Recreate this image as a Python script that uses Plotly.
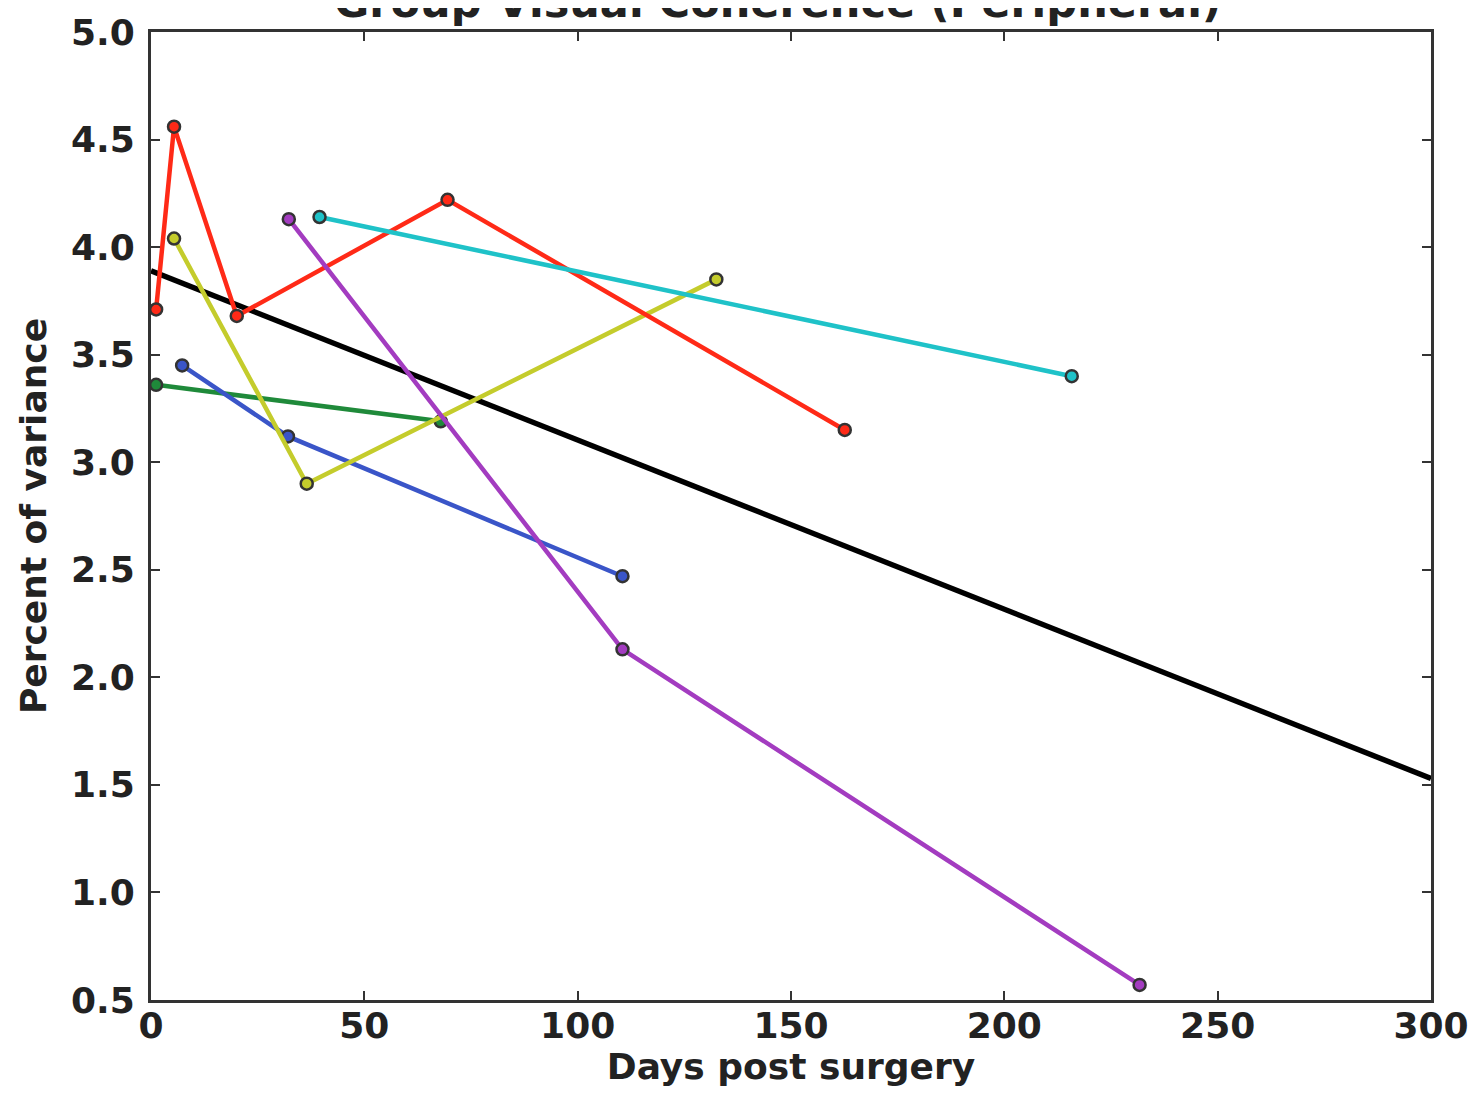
import plotly.graph_objects as go

# Data
red_x = [1.2, 5.4, 20.1, 69.5, 162.6]
red_y = [3.71, 4.56, 3.68, 4.22, 3.15]
yellow_x = [5.4, 36.5, 132.5]
yellow_y = [4.04, 2.90, 3.85]
cyan_x = [39.5, 215.8]
cyan_y = [4.14, 3.40]
purple_x = [32.3, 110.5, 231.7]
purple_y = [4.13, 2.13, 0.57]
blue_x = [7.3, 32.1, 110.5]
blue_y = [3.45, 3.12, 2.47]
green_x = [1.2, 67.9]
green_y = [3.36, 3.19]
fit_x = [0, 300]
fit_y = [3.89, 1.53]

x_ticks = [0, 50, 100, 150, 200, 250, 300]
y_ticks = [0.5, 1.0, 1.5, 2.0, 2.5, 3.0, 3.5, 4.0, 4.5, 5.0]

series = [
    (green_x, green_y, "#1f8a3a"),
    (blue_x, blue_y, "#3a55c8"),
    (yellow_x, yellow_y, "#c4cc2c"),
    (red_x, red_y, "#ff2a17"),
    (cyan_x, cyan_y, "#1fc2c8"),
    (purple_x, purple_y, "#a33cc0"),
]

fig = go.Figure()
fig.add_trace(go.Scatter(x=fit_x, y=fit_y, mode="lines",
                         line=dict(color="black", width=5.5), showlegend=False))
for xs, ys, c in series:
    fig.add_trace(go.Scatter(
        x=xs, y=ys, mode="lines+markers",
        line=dict(color=c, width=4.5),
        marker=dict(color=c, size=12, line=dict(color="#333333", width=2.5)),
        showlegend=False, cliponaxis=False))

FAM = "DejaVu Sans"
font = dict(family=FAM, size=36, color="#222222", weight="bold")

fig.add_annotation(text="Group Visual Coherence (Peripheral)", xref="paper", yref="paper",
                   x=0.49, y=1, xanchor="center", yanchor="bottom", yshift=3,
                   showarrow=False, font=dict(family=FAM, size=43, color="#222222", weight="bold"))

axis_common = dict(showgrid=False, zeroline=False, showline=True, linecolor="#333333",
                   linewidth=3, mirror="ticks", ticks="inside", ticklen=9, tickwidth=2,
                   tickcolor="#333333", tickfont=font, automargin=False)

fig.update_xaxes(range=[0, 300], tickvals=x_ticks, ticktext=[str(v) for v in x_ticks],
                 ticklabelstandoff=-8,
                 title=dict(text="Days post surgery", font=font, standoff=8), **axis_common)
fig.update_yaxes(range=[0.5, 5.0], tickvals=y_ticks, ticktext=[f"{v:.1f}" for v in y_ticks],
                 ticklabelstandoff=6,
                 title=dict(text="Percent of variance", font=font, standoff=14), **axis_common)

# page body has an 8px margin, so sizes are reduced accordingly
fig.update_layout(width=1470, height=1094, plot_bgcolor="white", paper_bgcolor="white",
                  margin=dict(l=143, r=47, t=24, b=102), font=font)

fig.write_html("out.html")
